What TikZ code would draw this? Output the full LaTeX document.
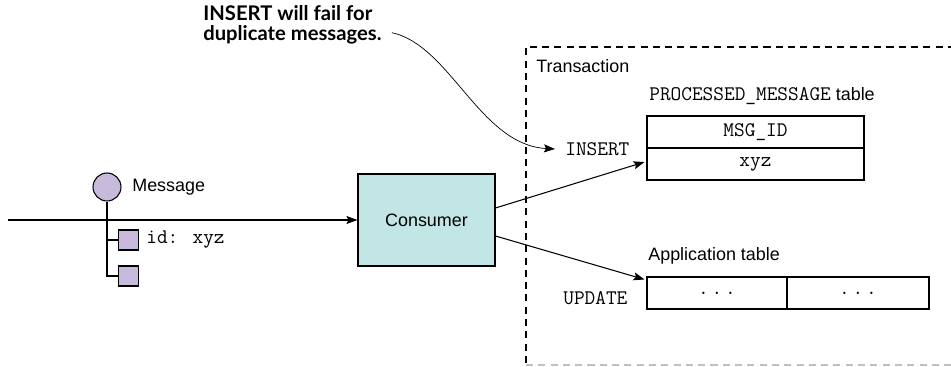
\documentclass[tikz,border=0pt]{standalone}
\usepackage{fontspec}
\setmainfont{Liberation Sans}
\newfontfamily\notefont{Lato}
\usetikzlibrary{positioning,arrows.meta}
\definecolor{msgc}{RGB}{200,186,220}
\definecolor{consc}{RGB}{194,230,229}
\tikzset{
  lbl/.style={font=\fontsize{10.2}{12}\selectfont,inner sep=0pt},
  mono/.style={font=\fontsize{11.8}{13}\selectfont\ttfamily,inner sep=0pt},
  dot/.style={circle,draw=black,line width=0.6pt,fill=msgc,minimum size=0.56cm,inner sep=0pt},
  field/.style={rectangle,draw=black,line width=0.6pt,fill=msgc,minimum size=0.4cm,inner sep=0pt},
  svc/.style={rectangle,draw=black,line width=0.6pt,fill=consc,minimum width=2.74cm,minimum height=1.84cm,
    font=\fontsize{10.2}{12}\selectfont},
  cell/.style={rectangle,draw=black,line width=0.6pt,minimum height=0.64cm,inner sep=0pt,
    font=\fontsize{11.8}{13}\selectfont\ttfamily},
  tree/.style={line width=0.6pt,black},
  flow/.style={-{Stealth[length=2.2mm,width=1.6mm,inset=0.4mm]},line width=0.6pt,black},
  frame/.style={line width=0.6pt,dash pattern=on 4pt off 3pt},
  note/.style={font=\notefont\bfseries\fontsize{11.5}{11.4}\selectfont,align=left,inner sep=0pt},
  notearrow/.style={-{Stealth[length=2.2mm,width=1.6mm,inset=0.4mm]},line width=0.4pt,black},
}
\newcommand{\elide}{.\hspace{1.6pt}.\hspace{1.6pt}.}
\newcommand{\code}[1]{{\fontsize{11.8}{13}\selectfont\ttfamily #1}}
\begin{document}
\begin{tikzpicture}[x=0.02cm,y=-0.02cm]
  \useasboundingbox (0,0) rectangle (951,367);
  % ---- left: the incoming message ----
  \node[dot] (msg) at (107,187) {};
  \node[lbl,anchor=west] (msgl) at (132,187) {Message};
  \node[field] (f1) at (128.5,240) {};
  \node[field] (f2) at (128.5,276) {};
  \node[mono,anchor=west] (idl) at (146,240) {id: xyz};
  \draw[tree] (msg.south) |- (f1.west);
  \draw[tree] (msg.south) |- (f2.west);
  \coordinate (src) at (8,220);
  \node[svc] (cons) at (426.5,220) {Consumer};
  \draw[flow] (src) -- (cons.west);
  % ---- the transaction, open to the right ----
  \draw[frame] (955,47) -- (526,47) -- (526,365);
  \draw[frame,black!25] (526,365) -- (955,365);
  \node[lbl,anchor=west] (txl) at (536,66) {Transaction};
  % ---- PROCESSED_MESSAGE table ----
  \node[lbl,anchor=west] (pml) at (649,96) {\code{PROCESSED\_MESSAGE} table};
  \node[cell,minimum width=4.34cm] (msgid) at (755.5,132) {MSG\_ID};
  \node[cell,minimum width=4.34cm] (xyz) at (755.5,164) {xyz};
  \node[mono,anchor=west] (ins) at (565,149) {INSERT};
  % ---- application table ----
  \node[lbl,anchor=west] (appl) at (648,256) {Application table};
  \node[cell,minimum width=2.8cm] (app1) at (717,293) {\elide};
  \node[cell,minimum width=2.84cm] (app2) at (858,293) {\elide};
  \node[mono,anchor=west] (upd) at (563,298) {UPDATE};
  % ---- writes from the consumer ----
  \draw[flow] ([yshift=0.24cm]cons.east) -- ([xshift=-0.04cm,yshift=0.04cm]xyz.west);
  \draw[flow] ([yshift=-0.32cm]cons.east) -- ([xshift=-0.04cm,yshift=-0.06cm]app1.north west);
  % ---- callout ----
  \node[note,anchor=north west] (note) at (203,5) {INSERT will fail for\\duplicate messages.};
  \draw[notearrow] ([xshift=0.2cm,yshift=-0.16cm]note.east) .. controls (450,45) and (480,145) .. ([xshift=-0.2cm]ins.west);
\end{tikzpicture}
\end{document}
